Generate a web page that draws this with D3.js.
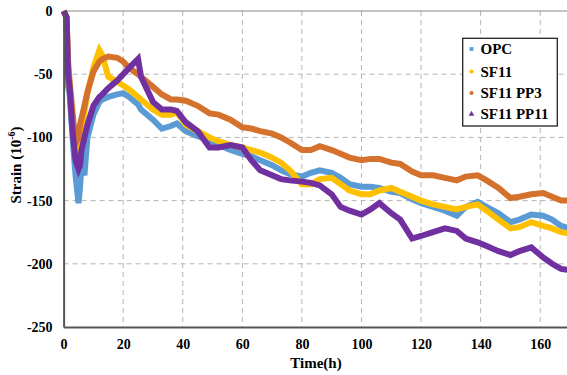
<!DOCTYPE html>
<html>
<head>
<meta charset="utf-8">
<script src="https://cdn.jsdelivr.net/npm/d3@7"></script>
<style>
  body { margin: 0; background: #fff; }
  svg { display: block; font-family: "Liberation Serif", "Times New Roman", serif; font-weight: bold; }
</style>
</head>
<body>
<svg id="chart" width="567" height="375"></svg>
<script>
// time (h)
const hours = [0, 1, 1.5, 2, 3, 4, 5, 5.5, 6, 7, 8, 10, 12, 13, 15, 18, 20, 22, 25, 26, 28, 30, 33, 36, 38, 41, 45, 49, 52, 56, 60, 63, 66, 70, 73, 76, 80, 83, 86, 90, 93, 96, 100, 103, 106, 110, 113, 117, 120, 124, 128, 132, 135, 139, 142, 146, 150, 153, 157, 161, 164, 167, 170];

const opc = [0, -5, -60, -65, -100, -130, -152, -140, -122, -130, -100, -82, -72, -70, -68, -66, -65, -68, -74, -78, -82, -86, -93, -91, -89, -95, -99, -102, -106, -110, -113, -115, -118, -122, -126, -129, -131, -128, -126, -128, -132, -137, -139, -139, -140, -143, -144, -149, -152, -155, -158, -162, -155, -151, -155, -160, -167, -165, -161, -162, -165, -170, -172];
const sf11 = [0, -5, -45, -60, -90, -110, -115, -105, -95, -80, -65, -45, -31, -35, -52, -56, -59, -62, -68, -70, -74, -78, -82, -82, -80, -90, -95, -100, -103, -106, -108, -110, -112, -116, -120, -126, -137, -137, -133, -132, -137, -142, -145, -145, -142, -140, -143, -147, -150, -153, -155, -157, -155, -153, -158, -165, -172, -171, -167, -170, -172, -175, -176];
const sf11pp3 = [0, -5, -40, -55, -80, -105, -100, -90, -85, -75, -64, -48, -40, -38, -36, -37, -40, -45, -50, -52, -56, -60, -66, -70, -70, -71, -75, -81, -82, -86, -92, -93, -95, -97, -100, -104, -110, -110, -107, -110, -113, -116, -118, -117, -117, -120, -121, -127, -130, -130, -132, -134, -131, -130, -134, -140, -148, -147, -145, -144, -147, -150, -150];
const sf11pp11 = [0, -5, -50, -60, -95, -118, -125, -122, -110, -100, -90, -75, -68, -66, -61, -55, -50, -45, -38, -52, -62, -72, -78, -78, -79, -88, -95, -108, -108, -106, -108, -118, -126, -130, -133, -134, -135, -136, -138, -145, -155, -158, -161, -157, -152, -160, -165, -180, -178, -175, -172, -174, -180, -183, -186, -190, -193, -190, -187, -195, -200, -204, -205];

const seriesNames = ["OPC", "SF11", "SF11 PP3", "SF11 PP11"];
const seriesValues = [opc, sf11, sf11pp3, sf11pp11];
const colors = ["#5b9bd5", "#ffc000", "#d4712c", "#7030a0"];

const xTicks = [0, 20, 40, 60, 80, 100, 120, 140, 160];
const yTicks = [0, -50, -100, -150, -200, -250];

const svg = d3.select("#chart");
const plotLeft = 63.6, plotTop = 11, plotBottom = 327, plotRight = 570;

const x = d3.scaleLinear().domain([0, 170]).range([plotLeft, plotRight]);
const y = d3.scaleLinear().domain([-250, 0]).range([plotBottom, plotTop]);

// grid
svg.append("g").selectAll("line")
  .data(xTicks.filter(d => d > 0))
  .join("line")
  .attr("x1", d => x(d)).attr("x2", d => x(d))
  .attr("y1", plotTop).attr("y2", plotBottom)
  .attr("stroke", "#b5b5b5").attr("stroke-width", 1).attr("stroke-dasharray", "5,4");
svg.append("g").selectAll("line")
  .data(yTicks.filter(d => d > -250 && d < 0))
  .join("line")
  .attr("x1", plotLeft).attr("x2", plotRight)
  .attr("y1", d => y(d)).attr("y2", d => y(d))
  .attr("stroke", "#b5b5b5").attr("stroke-width", 1).attr("stroke-dasharray", "5,4");
// top border
svg.append("line")
  .attr("x1", plotLeft).attr("x2", plotRight).attr("y1", plotTop).attr("y2", plotTop)
  .attr("stroke", "#888").attr("stroke-width", 1);

// lines
const line = d3.line()
  .x((d, i) => x(hours[i]))
  .y(d => y(d));

seriesValues.forEach((vals, k) => {
  svg.append("path")
    .datum(vals)
    .attr("d", line)
    .attr("fill", "none")
    .attr("stroke", colors[k])
    .attr("stroke-width", 6)
    .attr("stroke-linejoin", "miter");
});

// axes
const xAxis = svg.append("g")
  .attr("transform", `translate(0,${plotBottom})`)
  .call(d3.axisBottom(x).tickValues(xTicks).tickSize(0).tickPadding(12));
const yAxis = svg.append("g")
  .attr("transform", `translate(${plotLeft},0)`)
  .call(d3.axisLeft(y).tickValues(yTicks).tickSize(0).tickPadding(11).tickFormat(d3.format("d")));
[xAxis, yAxis].forEach(g => {
  g.select(".domain").attr("stroke", "#555").attr("stroke-width", 2);
  g.selectAll("text")
    .attr("fill", "#000")
    .style("font-family", '"Liberation Serif", serif')
    .style("font-weight", "bold")
    .style("font-size", "14px");
});
yAxis.selectAll("text").text(d => d === 0 ? "0" : "-" + Math.abs(d));

// axis titles
svg.append("text")
  .attr("x", 316).attr("y", 368)
  .attr("text-anchor", "middle")
  .style("font-size", "15px")
  .text("Time(h)");

const yt = svg.append("text")
  .attr("transform", "translate(21,165) rotate(-90)")
  .attr("text-anchor", "middle")
  .style("font-size", "15px");
yt.append("tspan").text("Strain (10");
yt.append("tspan").attr("dy", -6).style("font-size", "10px").text("-6");
yt.append("tspan").attr("dy", 6).text(")");

// legend
const lg = svg.append("g");
lg.append("rect")
  .attr("x", 462.7).attr("y", 38.3).attr("width", 94.6).attr("height", 87.7)
  .attr("fill", "#fff").attr("stroke", "#222").attr("stroke-width", 1.3);
const rowsY = [49, 71.5, 93, 114];
const symbols = [d3.symbolSquare, d3.symbolCircle, d3.symbolCircle, d3.symbolTriangle];
seriesNames.forEach((name, k) => {
  lg.append("path")
    .attr("transform", `translate(471.5,${rowsY[k]})`)
    .attr("d", d3.symbol().type(symbols[k]).size(14))
    .attr("fill", colors[k]);
  lg.append("text")
    .attr("x", 480.5).attr("y", rowsY[k])
    .attr("dy", "0.35em")
    .style("font-size", "15px")
    .text(name);
});
</script>
</body>
</html>
